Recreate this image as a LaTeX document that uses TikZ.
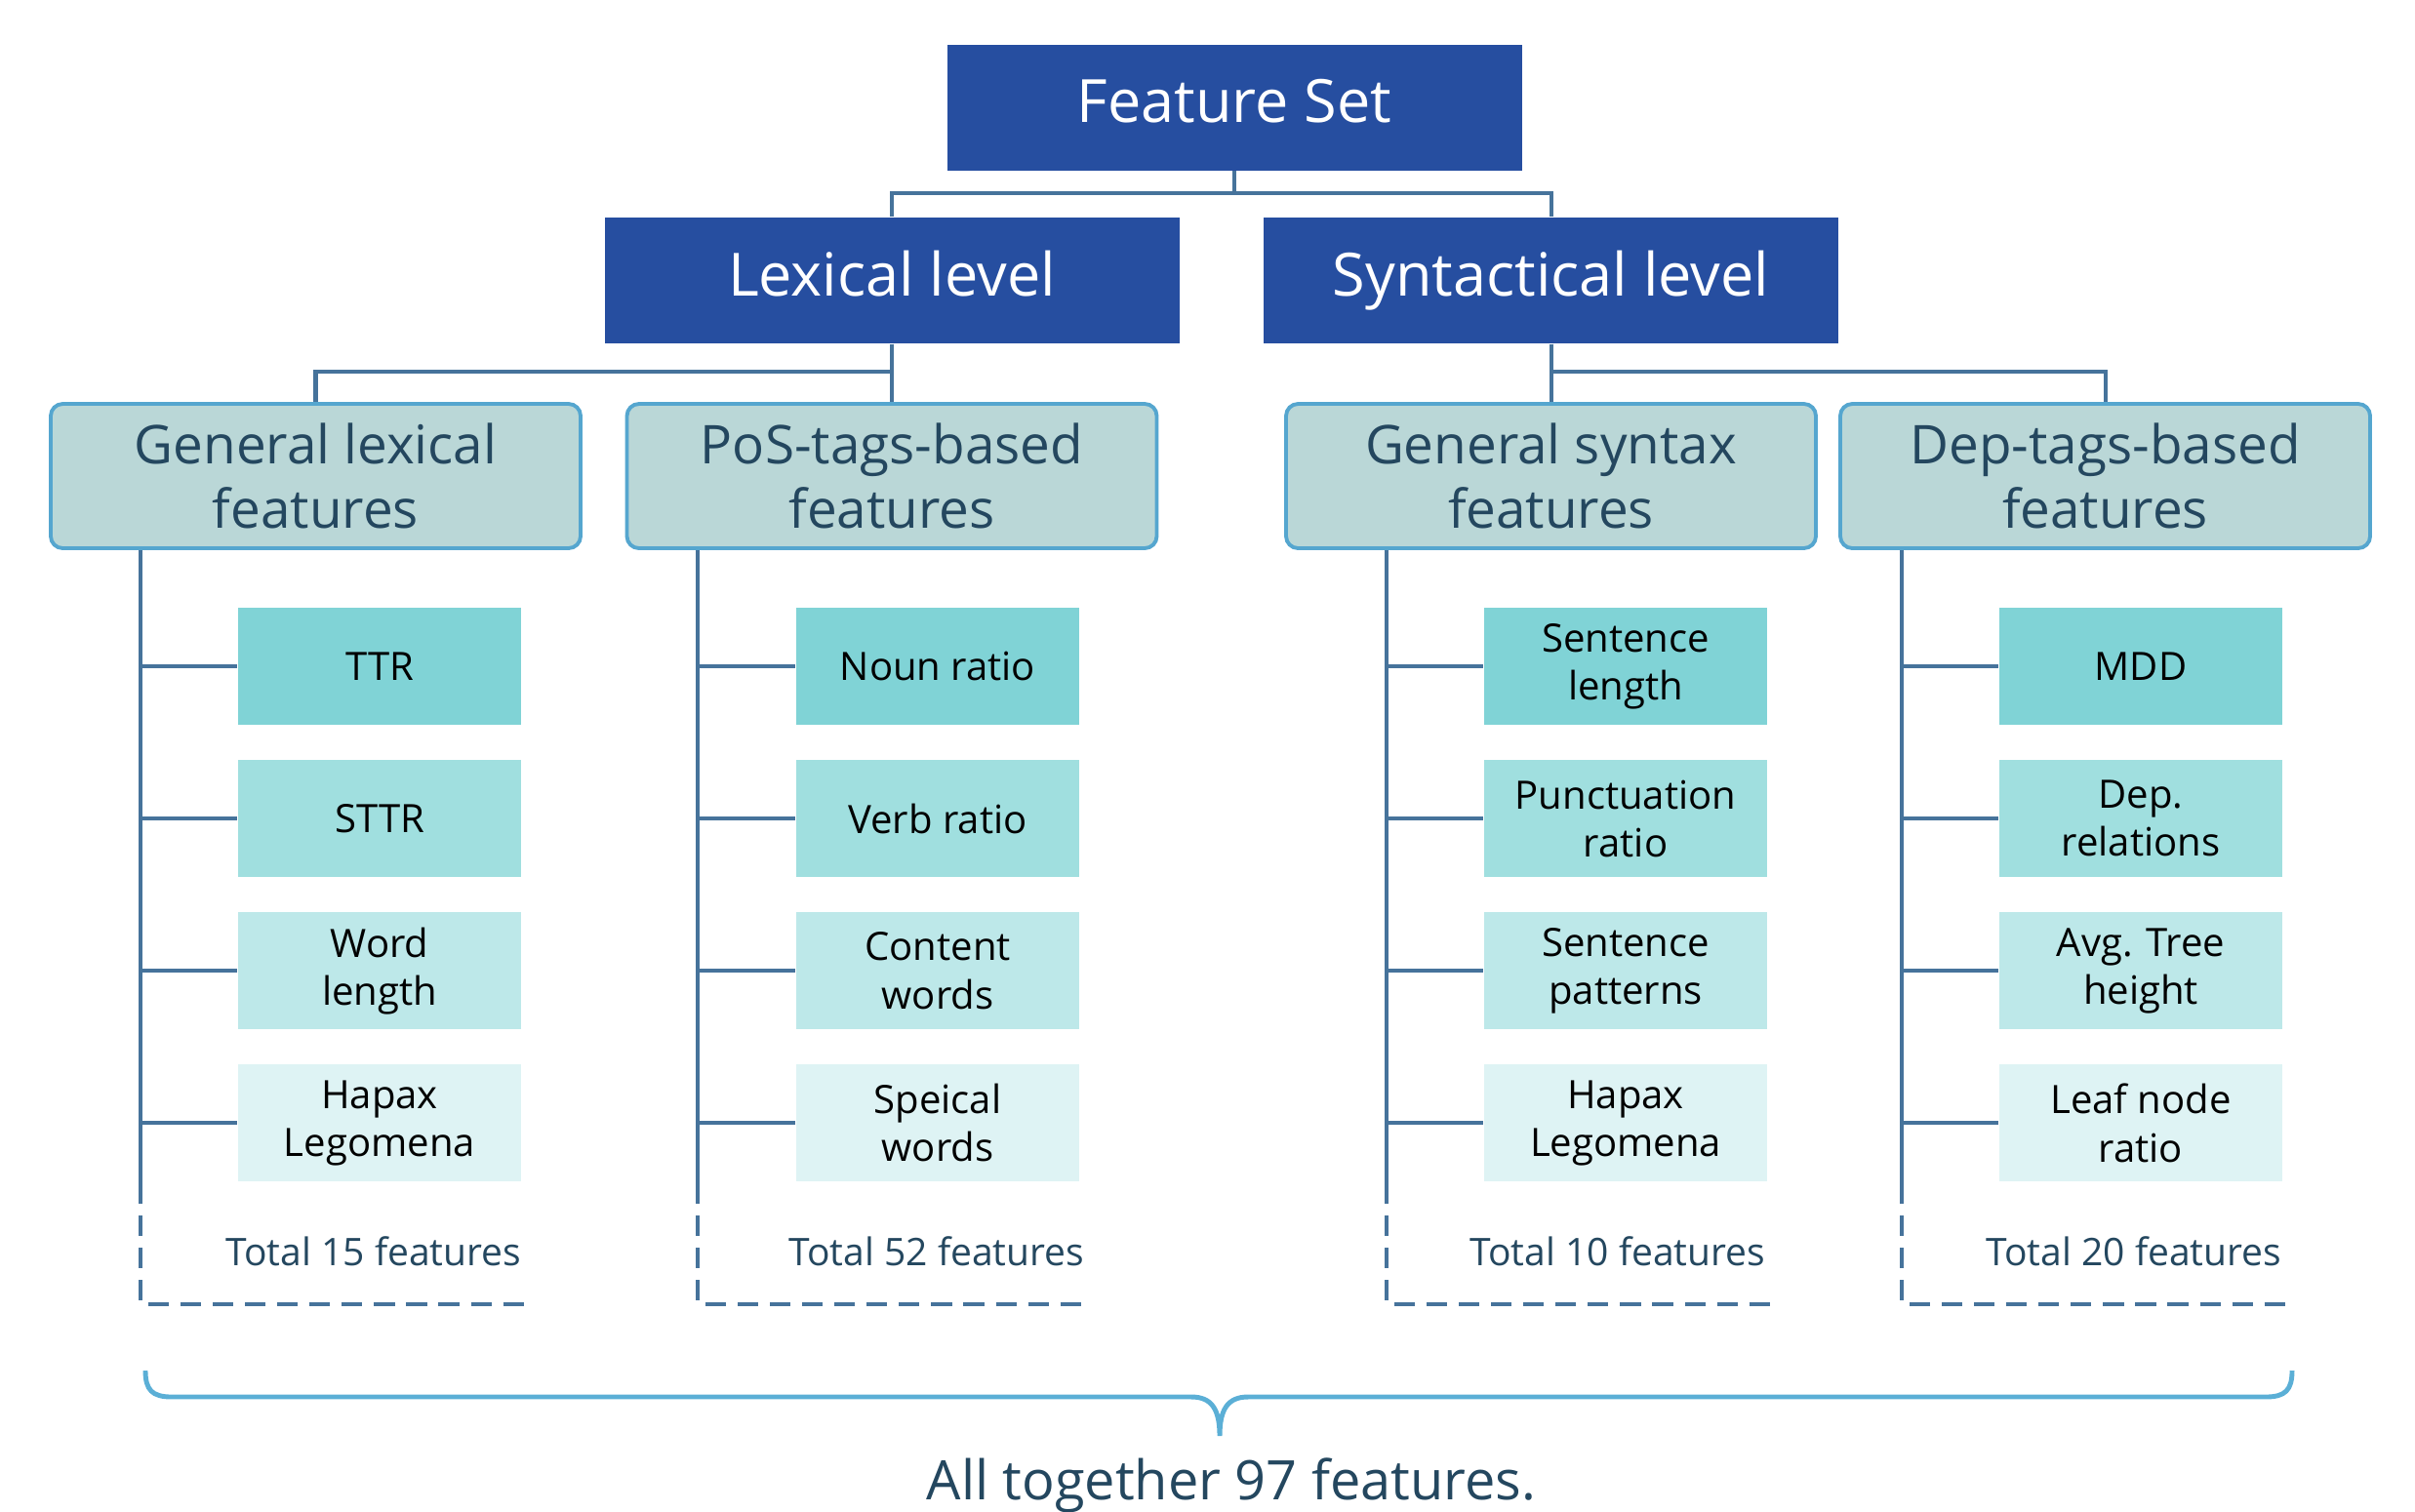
\documentclass[tikz,border=0pt]{standalone}
\usepackage{fontspec}
\setmainfont{Open Sans}
\usetikzlibrary{positioning}
\definecolor{fsblue}{HTML}{264EA0}
\definecolor{linkblue}{HTML}{46739B}
\definecolor{grpfill}{HTML}{BAD7D7}
\definecolor{grpline}{HTML}{55A6CF}
\definecolor{darktext}{HTML}{24475F}
\definecolor{leafA}{HTML}{80D3D6}
\definecolor{leafB}{HTML}{A0DFDF}
\definecolor{leafC}{HTML}{BDE8E9}
\definecolor{leafD}{HTML}{DEF3F4}
\definecolor{bracecol}{HTML}{5BAFD6}

\begin{document}
\begin{tikzpicture}[
      topbox/.style={fill=fsblue, text=white, inner sep=0pt,
                  minimum width=5.89cm, minimum height=1.29cm,
                  text height=0.9em, text depth=0pt,
                  font=\fontsize{17.4}{21}\selectfont},
      grpbox/.style={draw=grpline, line width=1.1pt, rounded corners=3.5pt,
                  fill=grpfill, text=darktext, inner sep=0pt, align=center,
                  minimum width=5.43cm, minimum height=1.48cm,
                  font=\fontsize{15.6}{19}\selectfont},
      leaf/.style={inner sep=0pt, align=center, text=black,
                  minimum width=2.9cm, minimum height=1.2cm,
                  font=\fontsize{11.4}{14}\selectfont},
      link/.style={draw=linkblue, line width=1.15pt},
      dashlink/.style={link, dash pattern=on 6pt off 3.4pt},
      total/.style={anchor=base east, text=darktext, inner sep=0pt,
                  font=\fontsize{11.1}{13}\selectfont}]
    \useasboundingbox (0,0) rectangle (24.75,-15.49);

    % top levels
    \node[topbox] (fs) at (12.65,-1.10) {Feature Set};
    \node[topbox] (lex) at (9.14,-2.875) {Lexical level};
    \node[topbox] (syn) at (15.895,-2.875) {Syntactical level};

    % feature groups
    \node[grpbox] (gl) at (3.235,-4.88) {General lexical\\features};
    \node[grpbox] (pos) at (9.14,-4.88) {PoS-tags-based\\features};
    \node[grpbox] (gs) at (15.895,-4.88) {General syntax\\features};
    \node[grpbox] (dep) at (21.575,-4.88) {Dep-tags-based\\features};

    \draw[link] (fs.south) -- ++(0,-0.23) -| (lex.north);
    \draw[link] (fs.south) -- ++(0,-0.23) -| (syn.north);
    \draw[link] (lex.south) -- ++(0,-0.28) -| (gl.north);
    \draw[link] (lex.south) -- (pos.north);
    \draw[link] (syn.south) -- (gs.north);
    \draw[link] (syn.south) -- ++(0,-0.28) -| (dep.north);

    % leaves
    \node[leaf, fill=leafA] (gl1) at (3.89,-6.83) {TTR};
    \node[leaf, fill=leafB, below=0.347cm of gl1] (gl2) {STTR};
    \node[leaf, fill=leafC, below=0.347cm of gl2] (gl3) {Word\\length};
    \node[leaf, fill=leafD, below=0.347cm of gl3] (gl4) {Hapax\\Legomena};

    \node[leaf, fill=leafA] (pos1) at (9.61,-6.83) {Noun ratio};
    \node[leaf, fill=leafB, below=0.347cm of pos1] (pos2) {Verb ratio};
    \node[leaf, fill=leafC, below=0.347cm of pos2] (pos3) {Content\\words};
    \node[leaf, fill=leafD, below=0.347cm of pos3] (pos4) {Speical\\words};

    \node[leaf, fill=leafA] (gs1) at (16.66,-6.83) {Sentence\\length};
    \node[leaf, fill=leafB, below=0.347cm of gs1] (gs2) {Punctuation\\ratio};
    \node[leaf, fill=leafC, below=0.347cm of gs2] (gs3) {Sentence\\patterns};
    \node[leaf, fill=leafD, below=0.347cm of gs3] (gs4) {Hapax\\Legomena};

    \node[leaf, fill=leafA] (dep1) at (21.94,-6.83) {MDD};
    \node[leaf, fill=leafB, below=0.347cm of dep1] (dep2) {Dep.\\relations};
    \node[leaf, fill=leafC, below=0.347cm of dep2] (dep3) {Avg. Tree\\height};
    \node[leaf, fill=leafD, below=0.347cm of dep3] (dep4) {Leaf node\\ratio};

    % totals
    \node[total] (glT) at (5.35,-12.97) {Total 15 features};
    \node[total] (posT) at (11.12,-12.97) {Total 52 features};
    \node[total] (gsT) at (18.10,-12.97) {Total 10 features};
    \node[total] (depT) at (23.39,-12.97) {Total 20 features};

    % spines
    \coordinate (glS) at (1.44,-12.13);
    \coordinate (posS) at (7.15,-12.13);
    \coordinate (gsS) at (14.21,-12.13);
    \coordinate (depS) at (19.49,-12.13);
    \coordinate (glE) at (5.43,-13.37);
    \coordinate (posE) at (11.13,-13.37);
    \coordinate (gsE) at (18.18,-13.37);
    \coordinate (depE) at (23.47,-13.37);
    \foreach \g in {gl,pos,gs,dep} {
      \draw[link] (\g.south -| \g S) -- (\g S);
      \draw[dashlink] (\g S) |- (\g E);
      \foreach \i in {1,...,4}
        \draw[link] (\g\i.west -| \g S) -- (\g\i.west);
    }

    % brace
    \draw[bracecol, line width=1.4pt]
      (1.49,-14.05) .. controls (1.49,-14.25) and (1.56,-14.32) .. (1.76,-14.32)
      -- (12.21,-14.32) .. controls (12.42,-14.32) and (12.50,-14.45) .. (12.50,-14.72)
      .. controls (12.50,-14.45) and (12.58,-14.32) .. (12.79,-14.32)
      -- (23.22,-14.32) .. controls (23.42,-14.32) and (23.49,-14.25) .. (23.49,-14.05);
    \node[anchor=base, text=darktext, inner sep=0pt,
          font=\fontsize{15.9}{19}\selectfont] (all) at (12.62,-15.37)
          {All together 97 features.};
  \end{tikzpicture}
\end{document}
